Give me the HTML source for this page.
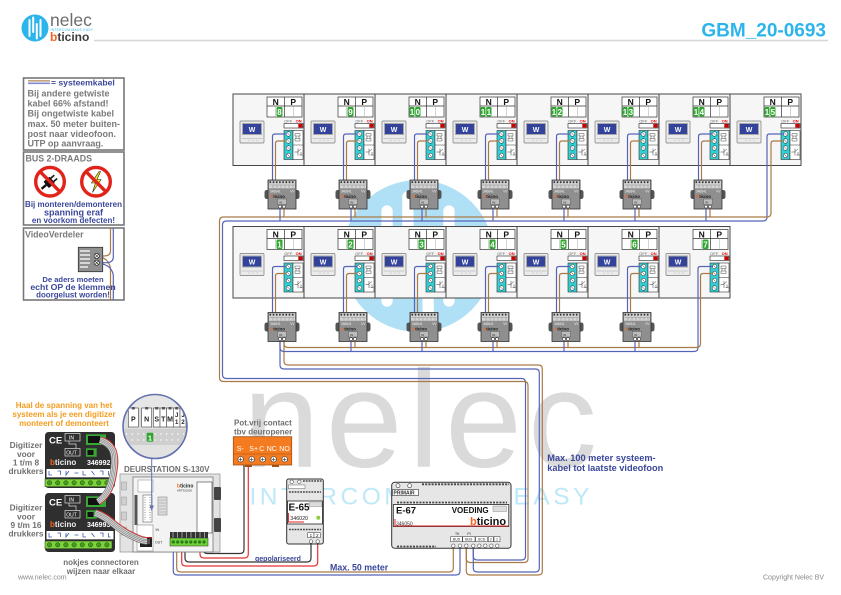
<!DOCTYPE html>
<html><head><meta charset="utf-8"><style>
html,body{margin:0;padding:0;background:#fff;}
svg{display:block;font-family:"Liberation Sans",Arial,sans-serif;}
.bl{fill:none;stroke:#5664b8;stroke-width:1.2}
.br{fill:none;stroke:#a97a47;stroke-width:1.2}
.np{font-size:8.5px;font-weight:bold;text-anchor:middle;fill:#111}
.num{font-size:8px;font-weight:bold;fill:#fff;text-anchor:middle}
.gn{fill:#2ea52e}
.off{font-size:4px;fill:#666}
.on{font-size:4px;fill:#e00;font-weight:bold}
.w{font-size:7px;font-weight:bold;fill:#fff;text-anchor:middle}
.dt{font-size:3.2px;fill:#f2f2f2}
.db{font-size:4.4px;font-weight:bold;fill:#1a1a1a}
.di{font-size:3px;fill:#222}
.g9{font-size:9px;font-weight:bold;fill:#7a7a7a}
.nv{font-weight:bold;fill:#3a479a}
.dg{font-size:8.3px;font-weight:bold;fill:#707070;text-anchor:middle}
</style></head><body>
<svg width="841" height="595" viewBox="0 0 841 595" xmlns="http://www.w3.org/2000/svg">
<defs>
<g id="pnl">
 <rect width="71" height="71.5" fill="#f6f6f6" stroke="#474747" stroke-width="1"/>
 <rect x="34" y="3" width="35" height="20" fill="#fff" stroke="#333" stroke-width="0.7"/>
 <path d="M34,12H69M51.5,3V23" stroke="#333" stroke-width="0.7"/>
 <path d="M42.75,12V23M60.25,12V23" stroke="#aaa" stroke-width="0.5"/>
 <rect x="51" y="29.5" width="19" height="4.5" fill="#fff" stroke="#222" stroke-width="0.6"/>
 <rect x="65.3" y="30" width="4.2" height="3.6" fill="#cc0000"/>
 <rect x="51" y="36.5" width="9" height="29" fill="#2fcfd3" stroke="#333" stroke-width="0.6"/>
 <rect x="60" y="36.5" width="10" height="29" fill="#fff" stroke="#333" stroke-width="0.6"/>
 <path d="M60,51H70" stroke="#333" stroke-width="0.5"/>
 <g fill="#fff" stroke="#222" stroke-width="0.5">
  <circle cx="55.5" cy="40" r="2.3"/><circle cx="55.5" cy="47" r="2.3"/><circle cx="55.5" cy="54" r="2.3"/><circle cx="55.5" cy="61.5" r="2.3"/>
 </g>
 <path d="M54.2,38.7l2.6,2.6M54.2,45.7l2.6,2.6M54.2,52.7l2.6,2.6M54.2,60.2l2.6,2.6" stroke="#222" stroke-width="0.5"/>
 <path d="M62,39.5h5v2.5h-5zM62,44.5h5v2.5h-5zM63,42v2.5M66,42v2.5" fill="none" stroke="#333" stroke-width="0.45"/>
 <path d="M61.5,58h3.5M65,54.5v7M65,57.5l3,-2.5M68,58v3M66.5,61h3" fill="none" stroke="#333" stroke-width="0.5"/>
 <rect x="7" y="27" width="24" height="22" rx="1" fill="#ebebeb" stroke="#7a7a7a" stroke-width="0.7"/>
 <rect x="9.5" y="29.5" width="19" height="11" fill="#33429b" stroke="#a9a9a9" stroke-width="1"/>
 <path d="M8.5,44.5H29.5" stroke="#aaa" stroke-width="0.5"/>
 <path d="M15,46.5h2M19,46.5h2M23,46.5h2" stroke="#bbb" stroke-width="0.5"/>
</g>
<g id="dst">
 <rect x="-3.5" y="10" width="5" height="9" rx="2.2" fill="#555"/>
 <rect x="26.5" y="10" width="5" height="9" rx="2.2" fill="#555"/>
 <rect width="28" height="29" fill="#8f8f8f" stroke="#333" stroke-width="0.8"/>
 <rect x="1" y="0.8" width="26" height="7.5" fill="#d5d5d5"/>
 <line x1="1.5" y1="2.2" x2="27" y2="2.2" stroke="#333" stroke-width="1.8" stroke-dasharray="1.6,1.6"/>
 <path d="M1.5,5H26.5M5,5v3M9,5v3M13,5v3M17,5v3M21,5v3M25,5v3" stroke="#777" stroke-width="0.4"/>
 <rect x="9.5" y="19" width="9" height="5.5" fill="#bdbdbd" stroke="#444" stroke-width="0.4"/>
 <circle cx="12" cy="26.6" r="1.5" fill="#fff" stroke="#222" stroke-width="0.5"/>
 <circle cx="16" cy="26.6" r="1.5" fill="#fff" stroke="#222" stroke-width="0.5"/>
</g>
<clipPath id="mc"><circle cx="155" cy="426.5" r="31.5"/></clipPath>
</defs>

<!-- header -->
<circle cx="35" cy="28" r="13.5" fill="#2cb5ea"/>
<path d="M29.5,20V36M33.2,17.5V32M36.8,24V38.5M40.5,20V36" stroke="#fff" stroke-width="2" stroke-linecap="round"/>
<text x="50" y="26" font-size="17.5" fill="#6d6d6d">nelec</text>
<text x="50.5" y="31" font-size="3.2" fill="#2cb5ea" letter-spacing="0.35">INTERCOM MADE EASY</text>
<text x="50" y="41" font-size="12" font-weight="bold" fill="#3c3c3c"><tspan fill="#f26522">b</tspan>ticino</text>
<line x1="94" y1="40.5" x2="828" y2="40.5" stroke="#d6d6d6" stroke-width="1.5"/>
<text x="826" y="36.5" text-anchor="end" font-size="19" font-weight="bold" fill="#2cb5ea">GBM_20-0693</text>

<!-- watermarks -->
<g transform="translate(418,256) scale(5.63) translate(-35,-28)">
 <circle cx="35" cy="28" r="13.5" fill="#b0e0f6"/>
 <path d="M29.5,20V36M33.2,17.5V32M36.8,24V38.5M40.5,20V36" stroke="#fff" stroke-width="2" stroke-linecap="round"/>
</g>
<text x="243" y="466.7" font-size="138" fill="#dadada" letter-spacing="6">nelec</text>
<text x="249.5" y="504.3" font-size="24.5" fill="#bde9f9" letter-spacing="3.5">INTERCOM MADE EASY</text>

<!-- legend box 1 -->
<rect x="23.5" y="78" width="100.5" height="72" fill="#fff" stroke="#777" stroke-width="1.6"/>
<line x1="28" y1="80.8" x2="50" y2="80.8" stroke="#c4a27c" stroke-width="1.6"/>
<line x1="28" y1="83.3" x2="50" y2="83.3" stroke="#7f8ad0" stroke-width="1.6"/>
<text x="51" y="85.3" font-size="8.6" class="nv">= systeemkabel</text>
<text x="27.5" y="96.6" class="g9">Bij andere getwiste</text>
<text x="27.5" y="106.6" class="g9">kabel 66% afstand!</text>
<text x="27.5" y="116.6" class="g9">Bij ongetwiste kabel</text>
<text x="27.5" y="126.8" class="g9">max. 50 meter buiten-</text>
<text x="27.5" y="136.8" class="g9">post naar videofoon.</text>
<text x="27.5" y="146.6" class="g9">UTP op aanvraag.</text>

<!-- legend box 2 -->
<rect x="23.5" y="152" width="100.5" height="73" fill="#fff" stroke="#777" stroke-width="1.6"/>
<text x="25.5" y="161.5" font-size="8.8" font-weight="bold" fill="#7a7a7a">BUS 2-DRAADS</text>
<circle cx="50" cy="181.7" r="14.3" fill="#fff" stroke="#e2231a" stroke-width="3.4"/>
<g transform="rotate(-40 50 181.7)"><rect x="45" y="177.5" width="8" height="8.4" rx="1" fill="#111"/><rect x="53" y="178.7" width="4.5" height="1.6" fill="#111"/><rect x="53" y="183.1" width="4.5" height="1.6" fill="#111"/><path d="M45,181.7H39" stroke="#111" stroke-width="2.4"/></g>
<line x1="40" y1="171.6" x2="60" y2="191.8" stroke="#e2231a" stroke-width="3.4"/>
<circle cx="96" cy="181.7" r="14.3" fill="#fff" stroke="#e2231a" stroke-width="3.4"/>
<path d="M99,171.5L91.5,183L95.5,183L92.5,192.5L101,179.5L97,179.5L100.5,171.5Z" fill="#f3e51b" stroke="#222" stroke-width="0.6"/>
<line x1="86" y1="171.6" x2="106" y2="191.8" stroke="#e2231a" stroke-width="3.4"/>
<text x="73.5" y="207" font-size="8" class="nv" text-anchor="middle">Bij monteren/demonteren</text>
<text x="73.5" y="215.5" font-size="9" class="nv" text-anchor="middle">spanning eraf</text>
<text x="73.5" y="222.8" font-size="8" class="nv" text-anchor="middle">en voorkom defecten!</text>

<!-- legend box 3 -->
<rect x="23.5" y="228" width="100.5" height="72" fill="#fff" stroke="#777" stroke-width="1.6"/>
<text x="25" y="237.5" font-size="8.8" font-weight="bold" fill="#7a7a7a">VideoVerdeler</text>
<path d="M110.5,228V251Q110.5,256 104,256H97M98,256.5Q106,258 108,262Q110.5,266 110.5,270V300" class="br"/>
<path d="M113.3,228V257Q113.3,262.7 106,262.7H97M98,263Q106,264 110,268Q113.3,272 113.3,276V300" class="bl"/>
<rect x="78.3" y="247.3" width="24.4" height="24.4" fill="#8f8f8f" stroke="#333" stroke-width="0.8"/>
<path d="M80,251h10M80,255h10M80,259h10M80,263h10M80,267h8" stroke="#eee" stroke-width="1.6"/>
<circle cx="96.7" cy="256" r="2.6" fill="#fff" stroke="#222" stroke-width="0.7"/>
<circle cx="96.7" cy="262.7" r="2.6" fill="#fff" stroke="#222" stroke-width="0.7"/>
<path d="M95,254.3l3.4,3.4M98.4,254.3l-3.4,3.4M95,261l3.4,3.4M98.4,261l-3.4,3.4" stroke="#222" stroke-width="0.6"/>
<text x="73" y="281.8" font-size="7.6" class="nv" text-anchor="middle">De aders moeten</text>
<text x="73" y="290" font-size="8.7" class="nv" text-anchor="middle">echt OP de klemmen</text>
<text x="73" y="297.6" font-size="7.9" class="nv" text-anchor="middle">doorgelust worden!</text>

<!-- ROW 1 -->
<g transform="translate(233,94)"><use href="#pnl"/><text x="42.75" y="10.8" class="np">N</text><text x="60.25" y="10.8" class="np">P</text><rect x="43.5" y="13" width="6" height="9.5" rx="1.2" class="gn"/><text x="46.5" y="21" class="num">8</text><text x="51.3" y="28.6" class="off">OFF</text><text x="62.6" y="28.6" class="on">ON</text><text x="19" y="38" class="w">W</text><path d="M53.5,40H42Q39.5,40 39.5,42.5V86" class="bl"/><path d="M53.5,47H45Q42.5,47 42.5,49.5V86" class="br"/></g>
<g transform="translate(304,94)"><use href="#pnl"/><text x="42.75" y="10.8" class="np">N</text><text x="60.25" y="10.8" class="np">P</text><rect x="43.5" y="13" width="6" height="9.5" rx="1.2" class="gn"/><text x="46.5" y="21" class="num">9</text><text x="51.3" y="28.6" class="off">OFF</text><text x="62.6" y="28.6" class="on">ON</text><text x="19" y="38" class="w">W</text><path d="M53.5,40H42Q39.5,40 39.5,42.5V86" class="bl"/><path d="M53.5,47H45Q42.5,47 42.5,49.5V86" class="br"/></g>
<g transform="translate(375,94)"><use href="#pnl"/><text x="42.75" y="10.8" class="np">N</text><text x="60.25" y="10.8" class="np">P</text><rect x="34.5" y="13" width="5" height="9.5" rx="1.2" class="gn"/><rect x="40.2" y="13" width="5.3" height="9.5" rx="1.2" class="gn"/><text x="37" y="21" class="num">1</text><text x="42.85" y="21" class="num">0</text><text x="51.3" y="28.6" class="off">OFF</text><text x="62.6" y="28.6" class="on">ON</text><text x="19" y="38" class="w">W</text><path d="M53.5,40H42Q39.5,40 39.5,42.5V86" class="bl"/><path d="M53.5,47H45Q42.5,47 42.5,49.5V86" class="br"/></g>
<g transform="translate(446,94)"><use href="#pnl"/><text x="42.75" y="10.8" class="np">N</text><text x="60.25" y="10.8" class="np">P</text><rect x="34.5" y="13" width="5" height="9.5" rx="1.2" class="gn"/><rect x="40.2" y="13" width="5.3" height="9.5" rx="1.2" class="gn"/><text x="37" y="21" class="num">1</text><text x="42.85" y="21" class="num">1</text><text x="51.3" y="28.6" class="off">OFF</text><text x="62.6" y="28.6" class="on">ON</text><text x="19" y="38" class="w">W</text><path d="M53.5,40H42Q39.5,40 39.5,42.5V86" class="bl"/><path d="M53.5,47H45Q42.5,47 42.5,49.5V86" class="br"/></g>
<g transform="translate(517,94)"><use href="#pnl"/><text x="42.75" y="10.8" class="np">N</text><text x="60.25" y="10.8" class="np">P</text><rect x="34.5" y="13" width="5" height="9.5" rx="1.2" class="gn"/><rect x="40.2" y="13" width="5.3" height="9.5" rx="1.2" class="gn"/><text x="37" y="21" class="num">1</text><text x="42.85" y="21" class="num">2</text><text x="51.3" y="28.6" class="off">OFF</text><text x="62.6" y="28.6" class="on">ON</text><text x="19" y="38" class="w">W</text><path d="M53.5,40H42Q39.5,40 39.5,42.5V86" class="bl"/><path d="M53.5,47H45Q42.5,47 42.5,49.5V86" class="br"/></g>
<g transform="translate(588,94)"><use href="#pnl"/><text x="42.75" y="10.8" class="np">N</text><text x="60.25" y="10.8" class="np">P</text><rect x="34.5" y="13" width="5" height="9.5" rx="1.2" class="gn"/><rect x="40.2" y="13" width="5.3" height="9.5" rx="1.2" class="gn"/><text x="37" y="21" class="num">1</text><text x="42.85" y="21" class="num">3</text><text x="51.3" y="28.6" class="off">OFF</text><text x="62.6" y="28.6" class="on">ON</text><text x="19" y="38" class="w">W</text><path d="M53.5,40H42Q39.5,40 39.5,42.5V86" class="bl"/><path d="M53.5,47H45Q42.5,47 42.5,49.5V86" class="br"/></g>
<g transform="translate(659,94)"><use href="#pnl"/><text x="42.75" y="10.8" class="np">N</text><text x="60.25" y="10.8" class="np">P</text><rect x="34.5" y="13" width="5" height="9.5" rx="1.2" class="gn"/><rect x="40.2" y="13" width="5.3" height="9.5" rx="1.2" class="gn"/><text x="37" y="21" class="num">1</text><text x="42.85" y="21" class="num">4</text><text x="51.3" y="28.6" class="off">OFF</text><text x="62.6" y="28.6" class="on">ON</text><text x="19" y="38" class="w">W</text><path d="M53.5,40H42Q39.5,40 39.5,42.5V86" class="bl"/><path d="M53.5,47H45Q42.5,47 42.5,49.5V86" class="br"/></g>
<g transform="translate(730,94)"><use href="#pnl"/><text x="42.75" y="10.8" class="np">N</text><text x="60.25" y="10.8" class="np">P</text><rect x="34.5" y="13" width="5" height="9.5" rx="1.2" class="gn"/><rect x="40.2" y="13" width="5.3" height="9.5" rx="1.2" class="gn"/><text x="37" y="21" class="num">1</text><text x="42.85" y="21" class="num">5</text><text x="51.3" y="28.6" class="off">OFF</text><text x="62.6" y="28.6" class="on">ON</text><text x="19" y="38" class="w">W</text></g>

<!-- ROW 2 -->
<g transform="translate(233,226.5)"><use href="#pnl"/><text x="42.75" y="10.8" class="np">N</text><text x="60.25" y="10.8" class="np">P</text><rect x="43.5" y="13" width="6" height="9.5" rx="1.2" class="gn"/><text x="46.5" y="21" class="num">1</text><text x="51.3" y="28.6" class="off">OFF</text><text x="62.6" y="28.6" class="on">ON</text><text x="19" y="38" class="w">W</text><path d="M53.5,40H42Q39.5,40 39.5,42.5V86" class="bl"/><path d="M53.5,47H45Q42.5,47 42.5,49.5V86" class="br"/></g>
<g transform="translate(304,226.5)"><use href="#pnl"/><text x="42.75" y="10.8" class="np">N</text><text x="60.25" y="10.8" class="np">P</text><rect x="43.5" y="13" width="6" height="9.5" rx="1.2" class="gn"/><text x="46.5" y="21" class="num">2</text><text x="51.3" y="28.6" class="off">OFF</text><text x="62.6" y="28.6" class="on">ON</text><text x="19" y="38" class="w">W</text><path d="M53.5,40H42Q39.5,40 39.5,42.5V86" class="bl"/><path d="M53.5,47H45Q42.5,47 42.5,49.5V86" class="br"/></g>
<g transform="translate(375,226.5)"><use href="#pnl"/><text x="42.75" y="10.8" class="np">N</text><text x="60.25" y="10.8" class="np">P</text><rect x="43.5" y="13" width="6" height="9.5" rx="1.2" class="gn"/><text x="46.5" y="21" class="num">3</text><text x="51.3" y="28.6" class="off">OFF</text><text x="62.6" y="28.6" class="on">ON</text><text x="19" y="38" class="w">W</text><path d="M53.5,40H42Q39.5,40 39.5,42.5V86" class="bl"/><path d="M53.5,47H45Q42.5,47 42.5,49.5V86" class="br"/></g>
<g transform="translate(446,226.5)"><use href="#pnl"/><text x="42.75" y="10.8" class="np">N</text><text x="60.25" y="10.8" class="np">P</text><rect x="43.5" y="13" width="6" height="9.5" rx="1.2" class="gn"/><text x="46.5" y="21" class="num">4</text><text x="51.3" y="28.6" class="off">OFF</text><text x="62.6" y="28.6" class="on">ON</text><text x="19" y="38" class="w">W</text><path d="M53.5,40H42Q39.5,40 39.5,42.5V86" class="bl"/><path d="M53.5,47H45Q42.5,47 42.5,49.5V86" class="br"/></g>
<g transform="translate(517,226.5)"><use href="#pnl"/><text x="42.75" y="10.8" class="np">N</text><text x="60.25" y="10.8" class="np">P</text><rect x="43.5" y="13" width="6" height="9.5" rx="1.2" class="gn"/><text x="46.5" y="21" class="num">5</text><text x="51.3" y="28.6" class="off">OFF</text><text x="62.6" y="28.6" class="on">ON</text><text x="19" y="38" class="w">W</text><path d="M53.5,40H42Q39.5,40 39.5,42.5V86" class="bl"/><path d="M53.5,47H45Q42.5,47 42.5,49.5V86" class="br"/></g>
<g transform="translate(588,226.5)"><use href="#pnl"/><text x="42.75" y="10.8" class="np">N</text><text x="60.25" y="10.8" class="np">P</text><rect x="43.5" y="13" width="6" height="9.5" rx="1.2" class="gn"/><text x="46.5" y="21" class="num">6</text><text x="51.3" y="28.6" class="off">OFF</text><text x="62.6" y="28.6" class="on">ON</text><text x="19" y="38" class="w">W</text><path d="M53.5,40H42Q39.5,40 39.5,42.5V86" class="bl"/><path d="M53.5,47H45Q42.5,47 42.5,49.5V86" class="br"/></g>
<g transform="translate(659,226.5)"><use href="#pnl"/><text x="42.75" y="10.8" class="np">N</text><text x="60.25" y="10.8" class="np">P</text><rect x="43.5" y="13" width="6" height="9.5" rx="1.2" class="gn"/><text x="46.5" y="21" class="num">7</text><text x="51.3" y="28.6" class="off">OFF</text><text x="62.6" y="28.6" class="on">ON</text><text x="19" y="38" class="w">W</text></g>

<!-- long wires -->
<path d="M784,134H769.5Q767,134 767,136.5V217Q767,221 763,221H226.5Q222.5,221 222.5,225V374.5Q222.5,378.5 226.5,378.5H521.5Q525.5,378.5 525.5,382.5V556Q525.5,560 521.5,560H477.3Q473.3,560 473.3,556V547" class="bl"/>
<path d="M784,141H773.5Q771,141 771,143.5V213Q771,217 767,217H223.5Q219.5,217 219.5,221V377.5Q219.5,381.5 223.5,381.5H524Q528,381.5 528,385.5V558.5Q528,562.5 524,562.5H470Q466.3,562.5 466.3,558.5V547" class="br"/>
<path d="M280,341.5V365Q280,369 284,369H535.3Q539.3,369 539.3,373V568Q539.3,572 535.3,572H477.3Q473.3,572 473.3,568V547" class="bl"/>
<path d="M284,341.5V361Q284,365 288,365H538.3Q542.3,365 542.3,369V571Q542.3,575 538.3,575H470.3Q466.3,575 466.3,571V547" class="br"/>
<path d="M280,341.5V347.5Q280,351.5 284,351.5H694Q698,351.5 698,347.5V269Q698,266.5 700.5,266.5H713" class="bl"/>
<path d="M284,341.5V343.5Q284,347.5 288,347.5H696.5Q700.5,347.5 700.5,343.5V276Q700.5,273.5 703,273.5H713" class="br"/>

<!-- distributors row 1 -->
<g transform="translate(268,180)"><use href="#dst"/><text x="2" y="12.6" class="dt">346841</text><text x="22.3" y="12.6" class="dt">VV</text><text x="2.5" y="17.8" class="db"><tspan fill="#f26522">b</tspan>ticino</text><text x="11.3" y="23.4" class="di">IN</text><path d="M12,29V41" class="bl"/><path d="M16,29V37" class="br"/></g>
<g transform="translate(339,180)"><use href="#dst"/><text x="2" y="12.6" class="dt">346841</text><text x="22.3" y="12.6" class="dt">VV</text><text x="2.5" y="17.8" class="db"><tspan fill="#f26522">b</tspan>ticino</text><text x="11.3" y="23.4" class="di">IN</text><path d="M12,29V41" class="bl"/><path d="M16,29V37" class="br"/></g>
<g transform="translate(410,180)"><use href="#dst"/><text x="2" y="12.6" class="dt">346841</text><text x="22.3" y="12.6" class="dt">VV</text><text x="2.5" y="17.8" class="db"><tspan fill="#f26522">b</tspan>ticino</text><text x="11.3" y="23.4" class="di">IN</text><path d="M12,29V41" class="bl"/><path d="M16,29V37" class="br"/></g>
<g transform="translate(481,180)"><use href="#dst"/><text x="2" y="12.6" class="dt">346841</text><text x="22.3" y="12.6" class="dt">VV</text><text x="2.5" y="17.8" class="db"><tspan fill="#f26522">b</tspan>ticino</text><text x="11.3" y="23.4" class="di">IN</text><path d="M12,29V41" class="bl"/><path d="M16,29V37" class="br"/></g>
<g transform="translate(552,180)"><use href="#dst"/><text x="2" y="12.6" class="dt">346841</text><text x="22.3" y="12.6" class="dt">VV</text><text x="2.5" y="17.8" class="db"><tspan fill="#f26522">b</tspan>ticino</text><text x="11.3" y="23.4" class="di">IN</text><path d="M12,29V41" class="bl"/><path d="M16,29V37" class="br"/></g>
<g transform="translate(623,180)"><use href="#dst"/><text x="2" y="12.6" class="dt">346841</text><text x="22.3" y="12.6" class="dt">VV</text><text x="2.5" y="17.8" class="db"><tspan fill="#f26522">b</tspan>ticino</text><text x="11.3" y="23.4" class="di">IN</text><path d="M12,29V41" class="bl"/><path d="M16,29V37" class="br"/></g>
<g transform="translate(694,180)"><use href="#dst"/><text x="2" y="12.6" class="dt">346841</text><text x="22.3" y="12.6" class="dt">VV</text><text x="2.5" y="17.8" class="db"><tspan fill="#f26522">b</tspan>ticino</text><text x="11.3" y="23.4" class="di">IN</text><path d="M12,29V41" class="bl"/><path d="M16,29V37" class="br"/></g>

<!-- distributors row 2 -->
<g transform="translate(268,312.5)"><use href="#dst"/><text x="2" y="12.6" class="dt">346841</text><text x="22.3" y="12.6" class="dt">VV</text><text x="2.5" y="17.8" class="db"><tspan fill="#f26522">b</tspan>ticino</text><text x="11.3" y="23.4" class="di">IN</text></g>
<g transform="translate(339,312.5)"><use href="#dst"/><text x="2" y="12.6" class="dt">346841</text><text x="22.3" y="12.6" class="dt">VV</text><text x="2.5" y="17.8" class="db"><tspan fill="#f26522">b</tspan>ticino</text><text x="11.3" y="23.4" class="di">IN</text><path d="M12,29V39" class="bl"/><path d="M16,29V35" class="br"/></g>
<g transform="translate(410,312.5)"><use href="#dst"/><text x="2" y="12.6" class="dt">346841</text><text x="22.3" y="12.6" class="dt">VV</text><text x="2.5" y="17.8" class="db"><tspan fill="#f26522">b</tspan>ticino</text><text x="11.3" y="23.4" class="di">IN</text><path d="M12,29V39" class="bl"/><path d="M16,29V35" class="br"/></g>
<g transform="translate(481,312.5)"><use href="#dst"/><text x="2" y="12.6" class="dt">346841</text><text x="22.3" y="12.6" class="dt">VV</text><text x="2.5" y="17.8" class="db"><tspan fill="#f26522">b</tspan>ticino</text><text x="11.3" y="23.4" class="di">IN</text><path d="M12,29V39" class="bl"/><path d="M16,29V35" class="br"/></g>
<g transform="translate(552,312.5)"><use href="#dst"/><text x="2" y="12.6" class="dt">346841</text><text x="22.3" y="12.6" class="dt">VV</text><text x="2.5" y="17.8" class="db"><tspan fill="#f26522">b</tspan>ticino</text><text x="11.3" y="23.4" class="di">IN</text><path d="M12,29V39" class="bl"/><path d="M16,29V35" class="br"/></g>
<g transform="translate(623,312.5)"><use href="#dst"/><text x="2" y="12.6" class="dt">346841</text><text x="22.3" y="12.6" class="dt">VV</text><text x="2.5" y="17.8" class="db"><tspan fill="#f26522">b</tspan>ticino</text><text x="11.3" y="23.4" class="di">IN</text><path d="M12,29V39" class="bl"/><path d="M16,29V35" class="br"/></g>

<!-- bottom wiring -->
<path d="M173.3,546V571Q173.3,575 177.3,575H456Q460,575 460,571V547" class="bl"/>
<path d="M176.7,546V568Q176.7,572 180.7,572H449.3Q453.3,572 453.3,568V547" class="br"/>
<path d="M181.7,546V562Q181.7,566 185.7,566H313.7Q317.7,566 317.7,562V543" fill="none" stroke="#e63030" stroke-width="1.2"/>
<path d="M185,546V558Q185,562 189,562H307Q311,562 311,558V543" fill="none" stroke="#333" stroke-width="1.2"/>
<path d="M200,546V554Q200,558 204,558H244.3Q248.3,558 248.3,554V468Q248.3,464 251.7,461" fill="none" stroke="#e63030" stroke-width="1.2"/>
<path d="M203.3,546V549.5Q203.3,553.5 207.3,553.5H240Q244,553.5 244,549.5V467Q244,464 240.7,461" fill="none" stroke="#333" stroke-width="1.2"/>

<!-- pot vrij -->
<text x="234" y="425.3" font-size="8" font-weight="bold" fill="#707070">Pot.vrij contact</text>
<text x="234" y="434.5" font-size="8" font-weight="bold" fill="#707070">tbv deuropener</text>
<rect x="233.3" y="436.7" width="58.4" height="28.3" fill="#f47b20" stroke="#a0501a" stroke-width="0.8"/>
<line x1="233.3" y1="454" x2="291.7" y2="454" stroke="#a0501a" stroke-width="0.6"/>
<g font-size="7" fill="#fff"><text x="236.7" y="451">S-</text><text x="249.3" y="451">S+</text><text x="259.3" y="451">C</text><text x="266.7" y="451">NC</text><text x="279.3" y="451">NO</text></g>
<g fill="#fff" stroke="#333" stroke-width="0.6"><circle cx="240.7" cy="459.3" r="2.8"/><circle cx="251.7" cy="459.3" r="2.8"/><circle cx="262.7" cy="459.3" r="2.8"/><circle cx="273.7" cy="459.3" r="2.8"/><circle cx="284.7" cy="459.3" r="2.8"/></g>
<path d="M238.9,459.3h3.6M240.7,457.5v3.6M249.9,459.3h3.6M251.7,457.5v3.6M260.9,459.3h3.6M262.7,457.5v3.6M271.9,459.3h3.6M273.7,457.5v3.6M282.9,459.3h3.6M284.7,457.5v3.6" stroke="#333" stroke-width="0.6"/>
<rect x="245" y="465" width="7" height="2" fill="#a0501a"/><rect x="272" y="465" width="7" height="2" fill="#a0501a"/>
<text x="255" y="561" font-size="7" class="nv">gepolariseerd</text>
<text x="330" y="570.3" font-size="8.8" class="nv">Max. 50 meter</text>

<!-- E-65 -->
<rect x="286.7" y="479" width="36.6" height="65" rx="2" fill="#e6e6e6" stroke="#333" stroke-width="1"/>
<circle cx="291.7" cy="481.8" r="1.8" fill="#fff" stroke="#333" stroke-width="0.5"/><circle cx="299.3" cy="481.8" r="1.8" fill="#fff" stroke="#333" stroke-width="0.5"/>
<line x1="303" y1="481" x2="321.5" y2="481" stroke="#444" stroke-width="1.6" stroke-dasharray="1.8,1"/>
<rect x="288.3" y="485" width="16.7" height="3.5" fill="#fff" stroke="#444" stroke-width="0.4"/>
<line x1="289" y1="492" x2="321" y2="492" stroke="#444" stroke-width="1.6" stroke-dasharray="1.8,1"/>
<rect x="287.5" y="501" width="35" height="23" fill="#fff" stroke="#222" stroke-width="0.8"/>
<text x="288.5" y="510.3" font-size="10" font-weight="bold" fill="#111">E-65</text>
<rect x="309.3" y="502.7" width="12.4" height="4" fill="#ddd" stroke="#888" stroke-width="0.4"/>
<text x="290.3" y="520" font-size="5.3" fill="#222">346020</text>
<path d="M288.5,513V522H304" fill="none" stroke="#e02020" stroke-width="0.9"/>
<circle cx="318.3" cy="517.7" r="2" fill="#8ccf3a"/>
<line x1="289" y1="529.5" x2="321" y2="529.5" stroke="#444" stroke-width="1.6" stroke-dasharray="1.8,1"/>
<rect x="307.7" y="532.7" width="6.3" height="5" fill="#fff" stroke="#333" stroke-width="0.5"/><rect x="314" y="532.7" width="6.3" height="5" fill="#fff" stroke="#333" stroke-width="0.5"/>
<text x="309.6" y="537" font-size="4.5" fill="#111">1</text><text x="316" y="537" font-size="4.5" fill="#111">2</text>
<circle cx="311" cy="541.5" r="1.8" fill="#fff" stroke="#333" stroke-width="0.5"/><circle cx="317.7" cy="541.5" r="1.8" fill="#fff" stroke="#333" stroke-width="0.5"/>

<!-- E-67 -->
<rect x="391.7" y="482.3" width="119.3" height="66" rx="3" fill="#e6e6e6" stroke="#333" stroke-width="1"/>
<line x1="422" y1="484.3" x2="509" y2="484.3" stroke="#444" stroke-width="1.8" stroke-dasharray="2,1.2"/>
<circle cx="398" cy="485.7" r="2" fill="#fff" stroke="#333" stroke-width="0.6"/><circle cx="409.7" cy="485.7" r="2" fill="#fff" stroke="#333" stroke-width="0.6"/>
<rect x="392.5" y="489.5" width="26" height="6" fill="#fff" stroke="#333" stroke-width="0.6"/>
<text x="393.5" y="494.6" font-size="5" font-weight="bold" fill="#333">PRIMAIR</text>
<line x1="397" y1="502.5" x2="507" y2="502.5" stroke="#444" stroke-width="1.8" stroke-dasharray="2,1.2"/>
<rect x="393.3" y="504.5" width="115.5" height="22" fill="#fff" stroke="#222" stroke-width="0.8"/>
<text x="396" y="513.5" font-size="9.5" font-weight="bold" fill="#111">E-67</text>
<text x="451.7" y="512.8" font-size="8" font-weight="bold" fill="#111">VOEDING</text>
<rect x="493" y="506" width="13.5" height="5.5" fill="#ddd" stroke="#777" stroke-width="0.4"/>
<text x="470" y="525" font-size="11" font-weight="bold" fill="#111"><tspan fill="#f26522">b</tspan>ticino</text>
<text x="396" y="525.3" font-size="5" fill="#333">346050</text>
<path d="M395,519V526H508" fill="none" stroke="#e02020" stroke-width="1"/>
<line x1="397" y1="546.5" x2="436" y2="546.5" stroke="#444" stroke-width="1.8" stroke-dasharray="2,1.2"/>
<g font-size="3.5" fill="#222" text-anchor="middle"><text x="457.3" y="535">TK</text><text x="469" y="535">PI</text></g>
<g fill="#fff" stroke="#333" stroke-width="0.5"><rect x="450.7" y="536.7" width="11.6" height="5"/><rect x="462.7" y="536.7" width="12.3" height="5"/><rect x="475.7" y="536.7" width="11.6" height="5"/><rect x="488.3" y="536.7" width="5" height="5"/><rect x="494" y="536.7" width="6" height="5"/></g>
<g font-size="3.5" fill="#222" text-anchor="middle"><text x="456.5" y="540.7">BUS</text><text x="468.8" y="540.7">BUS</text><text x="481.5" y="540.7">SCS</text><text x="490.8" y="540.7">2</text><text x="497" y="540.7">1</text></g>
<g fill="#fff" stroke="#333" stroke-width="0.5"><circle cx="453.3" cy="545.7" r="1.8"/><circle cx="460" cy="545.7" r="1.8"/><circle cx="466.3" cy="545.7" r="1.8"/><circle cx="473.3" cy="545.7" r="1.8"/><circle cx="479.3" cy="545.7" r="1.8"/><circle cx="485.3" cy="545.7" r="1.8"/><circle cx="491.3" cy="545.7" r="1.8"/><circle cx="497.3" cy="545.7" r="1.8"/></g>

<text x="547.3" y="461" font-size="9.2" class="nv">Max. 100 meter systeem-</text>
<text x="547.3" y="471" font-size="9.2" class="nv">kabel tot laatste videofoon</text>

<!-- door station -->
<text x="124" y="472" font-size="8" font-weight="bold" fill="#6e6e6e">DEURSTATION S-130V</text>
<rect x="120" y="474" width="100" height="78" fill="#e3e3e3" stroke="#9a9a9a" stroke-width="0.8"/>
<g fill="#cfcfcf" stroke="#999" stroke-width="0.5"><rect x="121.5" y="482" width="5" height="8"/><rect x="121.5" y="497" width="5" height="8"/><rect x="121.5" y="512" width="5" height="8"/><rect x="121.5" y="527" width="5" height="8"/></g>
<rect x="133" y="477" width="80" height="75" fill="#f3f3f3" stroke="#777" stroke-width="0.8"/>
<rect x="138" y="480" width="15" height="12" fill="#fff" stroke="#999" stroke-width="0.6"/>
<rect x="134.5" y="495" width="3" height="30" fill="#555"/>
<rect x="143" y="495" width="9" height="27" fill="#fff" stroke="#666" stroke-width="0.6"/>
<path d="M145,497V520M150,497V520" stroke="#888" stroke-width="1" stroke-dasharray="1,1.5"/>
<rect x="158" y="497" width="9" height="18" fill="#ddd" stroke="#777" stroke-width="0.5"/>
<path d="M159,500h7M159,503h7M159,506h7M159,509h7M159,512h7" stroke="#999" stroke-width="0.6"/>
<text x="177" y="487.5" font-size="5" font-weight="bold" fill="#222"><tspan fill="#f26522">b</tspan>ticino</text>
<text x="177" y="491.5" font-size="2.8" fill="#333">ART301000</text>
<rect x="197" y="482" width="15" height="51" fill="#fff" stroke="#555" stroke-width="0.7"/>
<rect x="214" y="487" width="7" height="13" rx="1" fill="#444"/><rect x="214" y="518" width="7" height="14" rx="1" fill="#444"/>
<rect x="137" y="525" width="16" height="26" fill="#fff" stroke="#888" stroke-width="0.6"/>
<rect x="140" y="537" width="12" height="10" fill="#222"/><rect x="142" y="539" width="8" height="5" fill="#555"/>
<text x="155.5" y="531" font-size="3.5" fill="#333">IN</text><text x="155" y="543.5" font-size="3.5" fill="#333">OUT</text>
<rect x="170" y="532" width="38" height="6" fill="#333"/>
<path d="M173,532v6M177.5,532v6M182,532v6M186.5,532v6M191,532v6M195.5,532v6M200,532v6M204.5,532v6" stroke="#999" stroke-width="1"/>
<rect x="170" y="538" width="38" height="8" fill="#6fd13a" stroke="#333" stroke-width="0.5"/>
<g fill="#2f7a1a"><circle cx="173.3" cy="542" r="1.6"/><circle cx="177.7" cy="542" r="1.6"/><circle cx="182" cy="542" r="1.6"/><circle cx="186.4" cy="542" r="1.6"/><circle cx="190.8" cy="542" r="1.6"/><circle cx="195.2" cy="542" r="1.6"/><circle cx="199.6" cy="542" r="1.6"/><circle cx="204" cy="542" r="1.6"/></g>

<!-- digitizers -->
<rect x="45" y="432" width="70" height="56" rx="3.5" fill="#2f2f2f"/>
<rect x="45" y="493" width="70" height="59" rx="3.5" fill="#2f2f2f"/>
<g transform="translate(45,432)">
 <text x="4" y="11.5" font-size="9.5" font-weight="bold" fill="#fff">CE</text>
 <rect x="20" y="1.5" width="15" height="7.5" fill="none" stroke="#ddd" stroke-width="0.7"/><text x="24" y="7.6" font-size="5" fill="#fff">IN</text>
 <rect x="20" y="16.5" width="15" height="7.5" fill="none" stroke="#ddd" stroke-width="0.7"/><text x="21.3" y="22.6" font-size="5" fill="#fff">OUT</text>
 <path d="M24,9V12H31V16.5" fill="none" stroke="#ddd" stroke-width="0.7"/>
 <rect x="41" y="2.3" width="20" height="10.7" fill="#3aa635"/><rect x="43" y="4" width="12" height="7" fill="#111"/>
 <rect x="41" y="16.3" width="10.7" height="8.4" fill="#3aa635"/><rect x="42.5" y="18" width="6" height="5" fill="#111"/>
 <text x="5" y="33" font-size="8" font-weight="bold" fill="#eee"><tspan fill="#f26522">b</tspan>ticino</text>
 <text x="42" y="33" font-size="7" font-weight="bold" fill="#fff">346992</text>
 <rect x="1.5" y="37" width="67" height="8.3" fill="#fff"/>
 <path d="M4,39v4h3M12.5,39h3v4M21,39v4l3,-4M29.5,41h4M38,39v4h3M46.5,39l3,4M55,39h3v4M63.5,39v4h2" fill="none" stroke="#3a5ab0" stroke-width="0.8"/>
 <rect x="0" y="47" width="67" height="7.7" fill="#7cd43a" stroke="#2a2a2a" stroke-width="0.5"/>
 <g fill="#4a9a22" stroke="#1d4a10" stroke-width="0.5"><circle cx="4.5" cy="50.8" r="2.2"/><circle cx="12.7" cy="50.8" r="2.2"/><circle cx="20.9" cy="50.8" r="2.2"/><circle cx="29.1" cy="50.8" r="2.2"/><circle cx="37.3" cy="50.8" r="2.2"/><circle cx="45.5" cy="50.8" r="2.2"/><circle cx="53.7" cy="50.8" r="2.2"/><circle cx="61.9" cy="50.8" r="2.2"/></g>
</g>
<g transform="translate(45,494)">
 <text x="4" y="11.5" font-size="9.5" font-weight="bold" fill="#fff">CE</text>
 <rect x="20" y="1.5" width="15" height="7.5" fill="none" stroke="#ddd" stroke-width="0.7"/><text x="24" y="7.6" font-size="5" fill="#fff">IN</text>
 <rect x="20" y="16.5" width="15" height="7.5" fill="none" stroke="#ddd" stroke-width="0.7"/><text x="21.3" y="22.6" font-size="5" fill="#fff">OUT</text>
 <path d="M24,9V12H31V16.5" fill="none" stroke="#ddd" stroke-width="0.7"/>
 <rect x="41" y="2.3" width="20" height="10.7" fill="#3aa635"/><rect x="43" y="4" width="12" height="7" fill="#111"/>
 <rect x="41" y="16.3" width="10.7" height="8.4" fill="#3aa635"/><rect x="42.5" y="18" width="6" height="5" fill="#111"/>
 <text x="5" y="33" font-size="8" font-weight="bold" fill="#eee"><tspan fill="#f26522">b</tspan>ticino</text>
 <text x="42" y="33" font-size="7" font-weight="bold" fill="#fff">346993</text>
 <rect x="1.5" y="37" width="67" height="8.3" fill="#fff"/>
 <path d="M4,39v4h3M12.5,39h3v4M21,39v4l3,-4M29.5,41h4M38,39v4h3M46.5,39l3,4M55,39h3v4M63.5,39v4h2" fill="none" stroke="#3a5ab0" stroke-width="0.8"/>
 <rect x="0" y="47" width="67" height="7.7" fill="#7cd43a" stroke="#2a2a2a" stroke-width="0.5"/>
 <g fill="#4a9a22" stroke="#1d4a10" stroke-width="0.5"><circle cx="4.5" cy="50.8" r="2.2"/><circle cx="12.7" cy="50.8" r="2.2"/><circle cx="20.9" cy="50.8" r="2.2"/><circle cx="29.1" cy="50.8" r="2.2"/><circle cx="37.3" cy="50.8" r="2.2"/><circle cx="45.5" cy="50.8" r="2.2"/><circle cx="53.7" cy="50.8" r="2.2"/><circle cx="61.9" cy="50.8" r="2.2"/></g>
</g>

<!-- ribbon cables -->
<g fill="none">
 <path d="M100,440C112,444 116,452 114,468C112,485 108,495 98,502" stroke="#7a7a7a" stroke-width="7"/>
 <path d="M100,440C112,444 116,452 114,468C112,485 108,495 98,502" stroke="#e2e2e2" stroke-width="5.4"/>
 <path d="M100,440C112,444 116,452 114,468C112,485 108,495 98,502" stroke="#8a8a8a" stroke-width="3.8"/>
 <path d="M100,440C112,444 116,452 114,468C112,485 108,495 98,502" stroke="#e2e2e2" stroke-width="2.2"/>
 <path d="M100,440C112,444 116,452 114,468C112,485 108,495 98,502" stroke="#8a8a8a" stroke-width="0.7"/>
 <path d="M101,437C115,441 119.5,452 117.5,468C115.5,486 111,497 100,504" stroke="#e63030" stroke-width="0.8"/>
 <path d="M95,513C110,518 115,528 130,535C138,539 142,541 147,541" stroke="#7a7a7a" stroke-width="7"/>
 <path d="M95,513C110,518 115,528 130,535C138,539 142,541 147,541" stroke="#e2e2e2" stroke-width="5.4"/>
 <path d="M95,513C110,518 115,528 130,535C138,539 142,541 147,541" stroke="#8a8a8a" stroke-width="3.8"/>
 <path d="M95,513C110,518 115,528 130,535C138,539 142,541 147,541" stroke="#e2e2e2" stroke-width="2.2"/>
 <path d="M95,513C110,518 115,528 130,535C138,539 142,541 147,541" stroke="#8a8a8a" stroke-width="0.7"/>
 <path d="M97,510C112,515 117,525 132,532C140,536 145,538 152,538" stroke="#e63030" stroke-width="0.8"/>
</g>

<!-- magnifier -->
<circle cx="155" cy="426.5" r="32" fill="#dedede"/>
<g clip-path="url(#mc)">
 <rect x="120" y="394" width="70" height="14" fill="#e6e6e6"/>
 <g fill="#fff" stroke="#444" stroke-width="0.6"><rect x="128.3" y="408" width="10" height="19"/><rect x="141.7" y="408" width="10" height="19"/><rect x="153.3" y="408" width="6.7" height="19"/><rect x="160" y="408" width="6.7" height="19"/><rect x="166.7" y="408" width="6.6" height="19"/><rect x="173.3" y="408" width="6.7" height="19"/><rect x="180" y="408" width="6" height="19"/></g>
 <g fill="#555"><rect x="131.8" y="407" width="3" height="2.5"/><rect x="145.2" y="407" width="3" height="2.5"/><rect x="155.2" y="407" width="3" height="2.5"/><rect x="161.9" y="407" width="3" height="2.5"/><rect x="168.5" y="407" width="3" height="2.5"/><rect x="175.2" y="407" width="3" height="2.5"/><rect x="181.5" y="407" width="3" height="2.5"/></g>
 <rect x="120" y="429" width="70" height="16" fill="#cfcfcf"/>
 <path d="M126,434H188M126,440H188" stroke="#fff" stroke-width="1.3" stroke-dasharray="1.3,4.4"/>
 <rect x="146.7" y="432.7" width="6.6" height="9" rx="1" fill="#2ea52e"/>
 <text x="150" y="440.7" font-size="7.5" font-weight="bold" fill="#fff" text-anchor="middle">1</text>
 <rect x="120" y="445" width="70" height="15" fill="#e2e2e2"/>
 <g font-size="7" font-weight="bold" fill="#222" text-anchor="middle"><text x="133.3" y="421.5">P</text><text x="146.7" y="421.5">N</text><text x="156.7" y="421.5">S</text><text x="163.3" y="421.5">T</text><text x="170" y="421.5">M</text></g>
 <g font-size="6" font-weight="bold" fill="#222" text-anchor="middle"><text x="176.7" y="417">J</text><text x="176.7" y="424">1</text><text x="183" y="417">J</text><text x="183" y="424">2</text></g>
</g>
<circle cx="155" cy="426.5" r="32" fill="none" stroke="#6371ad" stroke-width="1.6"/>
<path d="M151.7,458.5V507" stroke="#6371ad" stroke-width="1"/>
<path d="M149.5,505.5L153.9,505.5L151.7,511Z" fill="#6371ad"/>

<!-- bottom-left labels -->
<g font-size="8" font-weight="bold" fill="#f39c1e" text-anchor="middle"><text x="64" y="408">Haal de spanning van het</text><text x="64" y="417.2">systeem als je een digitizer</text><text x="64" y="426.2">monteert of demonteert</text></g>
<text x="26" y="448" class="dg">Digitizer</text><text x="26" y="457" class="dg">voor</text><text x="26" y="465.5" class="dg">1 t/m 8</text><text x="26" y="474" class="dg">drukkers</text>
<text x="26" y="510.7" class="dg">Digitizer</text><text x="26" y="519.7" class="dg">voor</text><text x="26" y="528" class="dg">9 t/m 16</text><text x="26" y="536.3" class="dg">drukkers</text>
<g font-size="8" font-weight="bold" fill="#707070" text-anchor="middle"><text x="101" y="565">nokjes connectoren</text><text x="101" y="574">wijzen naar elkaar</text></g>
<text x="18" y="579.5" font-size="7" fill="#888">www.nelec.com</text>
<text x="763" y="579.5" font-size="7" fill="#888">Copyright Nelec BV</text>
</svg>
</body></html>
